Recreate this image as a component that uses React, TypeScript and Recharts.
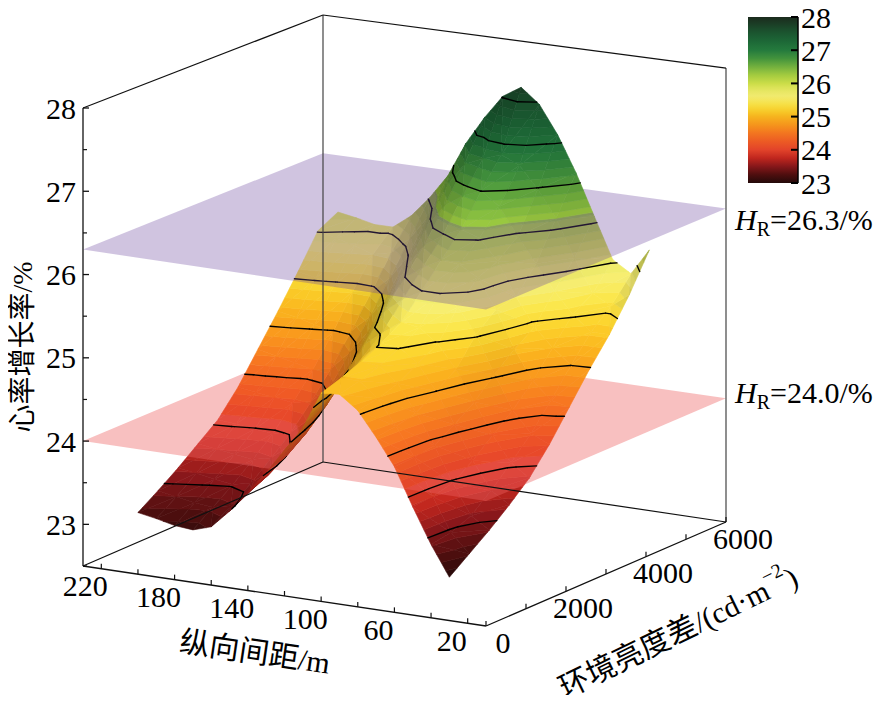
import React from 'react';
import * as RC from 'recharts';

const { ComposedChart, XAxis, YAxis, Customized } = RC as any;

const CHART_W = 883;
const CHART_H = 703;
const X_DOMAIN: [number, number] = [0, CHART_W];
const Y_DOMAIN: [number, number] = [0, CHART_H];

// ---------------- data ----------------
// longitudinal spacing (m) of the grid columns
const spacing = [30, 40, 50, 60, 70, 80, 90, 100, 110, 120, 130, 140, 150, 160, 170, 180, 190, 200];
// ambient luminance difference (cd/m2) of the grid rows
const luminance = [0, 500, 1000, 1500, 2000, 2500, 3000, 3500, 4000, 4500, 5000];
// heart-rate growth rate (%) per row of luminance
const rateL0 = [23.02, 23.38, 23.8, 24.25, 24.57, 24.86, 25.02, 25.0, 24.55, 24.25, 23.95, 23.68, 23.42, 23.2, 23.13, 23.15, 23.2, 23.24];
const rateL500 = [23.2, 23.42, 23.82, 24.26, 24.6, 24.9, 25.08, 25.08, 24.75, 24.4, 24.05, 23.78, 23.55, 23.35, 23.3, 23.32, 23.36, 23.4];
const rateL1000 = [23.38, 23.52, 23.88, 24.3, 24.66, 24.98, 25.16, 25.18, 24.92, 24.6, 24.22, 23.93, 23.7, 23.52, 23.47, 23.5, 23.54, 23.57];
const rateL1500 = [23.58, 23.72, 24.05, 24.45, 24.82, 25.12, 25.28, 25.3, 25.1, 24.85, 24.45, 24.13, 23.9, 23.72, 23.67, 23.7, 23.73, 23.76];
const rateL2000 = [23.8, 23.95, 24.25, 24.62, 24.98, 25.25, 25.42, 25.45, 25.3, 25.12, 24.72, 24.38, 24.12, 23.93, 23.88, 23.9, 23.93, 23.95];
const rateL2500 = [24.1, 24.2, 24.45, 24.85, 25.3, 25.6, 25.72, 25.72, 25.6, 25.42, 25.05, 24.68, 24.4, 24.2, 24.15, 24.18, 24.21, 24.24];
const rateL3000 = [24.45, 24.5, 24.7, 25.05, 25.5, 25.85, 25.98, 26.0, 25.88, 25.72, 25.38, 25.0, 24.72, 24.5, 24.45, 24.5, 24.55, 24.6];
const rateL3500 = [24.8, 24.82, 25.0, 25.22, 25.55, 25.95, 26.2, 26.27, 26.17, 26.02, 25.72, 25.35, 25.05, 24.85, 24.8, 24.86, 24.92, 24.96];
const rateL4000 = [25.12, 25.12, 25.3, 25.55, 25.85, 26.15, 26.48, 26.64, 26.55, 26.4, 26.1, 25.72, 25.42, 25.22, 25.2, 25.25, 25.3, 25.34];
const rateL4500 = [25.5, 25.33, 25.45, 25.85, 26.3, 26.62, 26.88, 26.98, 26.9, 26.8, 26.5, 26.1, 25.8, 25.6, 25.55, 25.62, 25.68, 25.74];
const rateL5000 = [25.94, 25.62, 25.76, 26.25, 26.75, 27.18, 27.52, 27.7, 27.56, 27.27, 26.93, 26.5, 26.2, 25.95, 25.78, 25.78, 25.83, 25.87];
const heartRate = [rateL0, rateL500, rateL1000, rateL1500, rateL2000, rateL2500, rateL3000, rateL3500, rateL4000, rateL4500, rateL5000];

// axis ticks
const zTicks = [23, 24, 25, 26, 27, 28];
const zMinorTicks = [22.5, 23.5, 24.5, 25.5, 26.5, 27.5];
const spacingTicks = [220, 200, 180, 160, 140, 120, 100, 80, 60, 40, 20];
const spacingLabels = [220, 180, 140, 100, 60, 20];
const luminanceTicks = [0, 1000, 2000, 3000, 4000, 5000, 6000];
const luminanceLabels = [0, 2000, 4000, 6000];
const colorbarTicks = [23, 24, 25, 26, 27, 28];
// reference planes
const planeLevels = [24.0, 26.3];
const planeTexts = ['24.0', '26.3'];

// ---------------- styles / layout ----------------
const SERIF = "'Liberation Serif', 'Times New Roman', 'Noto Sans CJK SC', serif";
const PLANE_STYLE: Record<string, { fill: string; opacity: number; labelDy: number }> = {
  '24': { fill: '#ee6262', opacity: 0.4, labelDy: 5 },
  '26.3': { fill: '#6c479e', opacity: 0.32, labelDy: 22 },
};
const CMAP: [number, string][] = [
  [23.0, '#230909'], [23.25, '#4e0e0e'], [23.5, '#86171a'], [23.75, '#c0261e'], [24.0, '#e2432a'],
  [24.25, '#ec5a24'], [24.5, '#f27520'], [24.75, '#f5951c'], [25.0, '#f6b31e'], [25.2, '#f7cf2b'],
  [25.4, '#f6e24a'], [25.6, '#f2ea70'], [25.8, '#e5e660'], [26.0, '#cbdd48'], [26.25, '#a3cb3f'],
  [26.5, '#73b03e'], [26.75, '#43933c'], [27.0, '#247a3d'], [27.3, '#1c6636'], [27.6, '#1b4f2d'], [28.0, '#1b2a1d'],
];

function hexToRgb(h: string) {
  return [parseInt(h.slice(1, 3), 16), parseInt(h.slice(3, 5), 16), parseInt(h.slice(5, 7), 16)];
}
function cmapRgb(z: number): number[] {
  if (z <= CMAP[0][0]) return hexToRgb(CMAP[0][1]);
  for (let i = 1; i < CMAP.length; i++) {
    if (z <= CMAP[i][0]) {
      const [z0, c0] = CMAP[i - 1];
      const [z1, c1] = CMAP[i];
      const t = (z - z0) / (z1 - z0);
      const a = hexToRgb(c0), b = hexToRgb(c1);
      return a.map((v, k) => v + (b[k] - v) * t);
    }
  }
  return hexToRgb(CMAP[CMAP.length - 1][1]);
}
function rgbStr(c: number[], f = 1) {
  const r = c.map((v) => Math.max(0, Math.min(255, Math.round(v * f))));
  return `rgb(${r[0]},${r[1]},${r[2]})`;
}
function cmap(z: number) {
  return rgbStr(cmapRgb(z));
}

// 3D -> 2D projection of the box (d: 230..10, L: 0..6000, z: 22.5..28)
function toUVW(d: number, L: number, z: number): [number, number, number] {
  return [(230 - d) / 220, L / 6000, (z - 22.5) / 5.5];
}
function project(d: number, L: number, z: number): [number, number] {
  const [u, v, w] = toUVW(d, L, z);
  const h = 458 * (1 - 0.024 * v + 0.015 * u * v);
  return [83 + 403 * u + 240 * v, 566 + 60 * u - 104 * v - h * w];
}

type V3 = [number, number, number];

function clip(poly: V3[], level: number, keepAbove: boolean): V3[] {
  const out: V3[] = [];
  for (let k = 0; k < poly.length; k++) {
    const A = poly[k];
    const B = poly[(k + 1) % poly.length];
    const ia = keepAbove ? A[2] >= level : A[2] <= level;
    const ib = keepAbove ? B[2] >= level : B[2] <= level;
    if (ia) out.push(A);
    if (ia !== ib) {
      const t = (level - A[2]) / (B[2] - A[2]);
      out.push([A[0] + t * (B[0] - A[0]), A[1] + t * (B[1] - A[1]), level]);
    }
  }
  return out;
}

// light for shading (in unit-box coordinates u, v, w)
const LIGHT = (() => {
  const l = [0.3, 0.0, 1.0];
  const n = Math.hypot(l[0], l[1], l[2]);
  return l.map((x) => x / n);
})();

// vertex normals from the grid (central differences in unit-box coordinates)
function vertexNormal(i: number, j: number): number[] {
  const i0 = Math.max(0, i - 1), i1 = Math.min(luminance.length - 1, i + 1);
  const j0 = Math.max(0, j - 1), j1 = Math.min(spacing.length - 1, j + 1);
  const dw_dv = ((heartRate[i1][j] - heartRate[i0][j]) / 5.5) / ((luminance[i1] - luminance[i0]) / 6000);
  const dw_du = ((heartRate[i][j1] - heartRate[i][j0]) / 5.5) / (-(spacing[j1] - spacing[j0]) / 220);
  const n = [-dw_du, -dw_dv, 1];
  const m = Math.hypot(n[0], n[1], n[2]);
  return n.map((x) => x / m);
}

const usePlotHook: any = (RC as any).usePlotArea || (RC as any).useOffset || null;

function Scene() {
  const pa: any = usePlotHook ? usePlotHook() : null;
  const px = pa ? (pa.x ?? pa.left ?? 0) : 0;
  const py = pa ? (pa.y ?? pa.top ?? 0) : 0;
  const pw = pa && pa.width ? pa.width : CHART_W;
  const ph = pa && pa.height ? pa.height : CHART_H;
  const sx = (x: number) => px + ((x - X_DOMAIN[0]) / (X_DOMAIN[1] - X_DOMAIN[0])) * pw;
  const sy = (y: number) => py + ((y - Y_DOMAIN[0]) / (Y_DOMAIN[1] - Y_DOMAIN[0])) * ph;
  const P = (d: number, L: number, z: number): [number, number] => {
    const [x, y] = project(d, L, z);
    return [sx(x), sy(y)];
  };
  const pts = (poly: V3[]) => poly.map((p) => P(p[0], p[1], p[2]).map((v) => v.toFixed(2)).join(',')).join(' ');

  // triangles with vertex normals
  type Tri = { v: V3[]; n: number[][] };
  const tris: Tri[] = [];
  for (let i = 0; i < luminance.length - 1; i++) {
    for (let j = 0; j < spacing.length - 1; j++) {
      const a: V3 = [spacing[j], luminance[i], heartRate[i][j]];
      const b: V3 = [spacing[j + 1], luminance[i], heartRate[i][j + 1]];
      const c: V3 = [spacing[j + 1], luminance[i + 1], heartRate[i + 1][j + 1]];
      const e: V3 = [spacing[j], luminance[i + 1], heartRate[i + 1][j]];
      const na = vertexNormal(i, j), nb = vertexNormal(i, j + 1), nc = vertexNormal(i + 1, j + 1), ne = vertexNormal(i + 1, j);
      if (Math.abs(a[2] - c[2]) <= Math.abs(b[2] - e[2])) {
        tris.push({ v: [a, b, c], n: [na, nb, nc] }, { v: [a, c, e], n: [na, nc, ne] });
      } else {
        tris.push({ v: [a, b, e], n: [na, nb, ne] }, { v: [b, c, e], n: [nb, nc, ne] });
      }
    }
  }

  const shadeAt = (tri: Tri, d: number, L: number) => {
    const [A, B, C] = tri.v;
    const det = (B[1] - C[1]) * (A[0] - C[0]) + (C[0] - B[0]) * (A[1] - C[1]);
    const wa = ((B[1] - C[1]) * (d - C[0]) + (C[0] - B[0]) * (L - C[1])) / det;
    const wb = ((C[1] - A[1]) * (d - C[0]) + (A[0] - C[0]) * (L - C[1])) / det;
    const wc = 1 - wa - wb;
    const n = [0, 1, 2].map((k) => wa * tri.n[0][k] + wb * tri.n[1][k] + wc * tri.n[2][k]);
    const m = Math.hypot(n[0], n[1], n[2]);
    const nd = (n[0] * LIGHT[0] + n[1] * LIGHT[1] + n[2] * LIGHT[2]) / m;
    return Math.min(1.02, 0.55 + 0.6 * Math.max(0, nd));
  };

  const step = 5 / 55;
  const fine: number[] = [];
  for (let k = 0; k <= 55; k++) fine.push(23 + k * step);
  const bounds = Array.from(new Set([22.5, ...fine, ...planeLevels, 28.5])).sort((a, b) => a - b);
  const contourLevels: number[] = [];
  for (let k = 1; k <= 10; k++) contourLevels.push(23 + (k * 5) / 11);

  type Item = { key: number; el: (idx: number) => React.ReactNode };
  const items: Item[] = [];

  tris.forEach((tri) => {
    const zs = tri.v.map((p) => p[2]);
    const zmin = Math.min(...zs), zmax = Math.max(...zs);
    for (let b = 0; b < bounds.length - 1; b++) {
      const lo = bounds[b], hi = bounds[b + 1];
      if (hi <= zmin || lo >= zmax) continue;
      const poly = clip(clip(tri.v, lo, true), hi, false);
      if (poly.length < 3) continue;
      const mid = (lo + hi) / 2;
      const kf = Math.floor((mid - 23) / step);
      const cd = poly.reduce((s, p) => s + p[0], 0) / poly.length;
      const cl = poly.reduce((s, p) => s + p[1], 0) / poly.length;
      const f = shadeAt(tri, cd, cl);
      const col = rgbStr(cmapRgb(23 + (kf + 0.5) * step), f);
      const meanZ = poly.reduce((s, p) => s + p[2], 0) / poly.length;
      const P2 = pts(poly);
      items.push({
        key: meanZ,
        el: (idx) => <polygon key={idx} points={P2} fill={col} stroke={col} strokeWidth={0.6} strokeLinejoin="round" />,
      });
    }
    contourLevels.forEach((c) => {
      if (c <= zmin || c >= zmax) return;
      const seg: V3[] = [];
      for (let k = 0; k < 3; k++) {
        const A = tri.v[k], B = tri.v[(k + 1) % 3];
        if ((A[2] - c) * (B[2] - c) < 0) {
          const t = (c - A[2]) / (B[2] - A[2]);
          seg.push([A[0] + t * (B[0] - A[0]), A[1] + t * (B[1] - A[1]), c]);
        }
      }
      if (seg.length === 2) {
        const [x1, y1] = P(seg[0][0], seg[0][1], c);
        const [x2, y2] = P(seg[1][0], seg[1][1], c);
        items.push({
          key: c + step + 0.001,
          el: (idx) => <line key={idx} x1={x1} y1={y1} x2={x2} y2={y2} stroke="#000" strokeWidth={1.4} strokeLinecap="round" />,
        });
      }
    });
  });

  planeLevels.forEach((lvl) => {
    const poly: V3[] = [[230, 0, lvl], [10, 0, lvl], [10, 6000, lvl], [230, 6000, lvl]];
    const P2 = pts(poly);
    const st = PLANE_STYLE[String(lvl)] || PLANE_STYLE['24'];
    items.push({ key: lvl, el: (idx) => <polygon key={idx} points={P2} fill={st.fill} fillOpacity={st.opacity} stroke="none" /> });
  });

  items.sort((a, b) => a.key - b.key);

  const line = (a: [number, number], b: [number, number], k: string, stroke = '#111', w = 1.2) => (
    <line key={k} x1={a[0]} y1={a[1]} x2={b[0]} y2={b[1]} stroke={stroke} strokeWidth={w} />
  );

  // colorbar geometry
  const cbX = sx(748), cbW = sx(798) - sx(748);
  const cbTop = sy(17), cbBot = sy(183);
  const cbY = (z: number) => cbBot - ((z - 23) / 5) * (cbBot - cbTop);
  const gradStops: React.ReactNode[] = [];
  for (let k = 0; k <= 40; k++) {
    const z = 28 - (k * 5) / 40;
    gradStops.push(<stop key={k} offset={`${(k / 40) * 100}%`} stopColor={cmap(z)} />);
  }

  return (
    <g>
      <rect x={0} y={0} width={CHART_W} height={CHART_H} fill="#fff" />
      {items.map((it, idx) => it.el(idx))}

      {/* box */}
      {line(P(230, 0, 22.5), P(230, 0, 28), 'zaxis', '#111', 1.3)}
      {line(P(230, 6000, 22.5), P(230, 6000, 28), 'bl', '#444', 1.2)}
      {line(P(10, 6000, 22.5), P(10, 6000, 28), 'br', '#444', 1.2)}
      {line(P(230, 0, 28), P(230, 6000, 28), 't1')}
      {line(P(230, 6000, 28), P(10, 6000, 28), 't2')}
      {line(P(230, 0, 22.5), P(10, 0, 22.5), 'f1', '#111', 1.3)}
      {line(P(10, 0, 22.5), P(10, 6000, 22.5), 'f2', '#111', 1.3)}
      {line(P(230, 0, 22.5), P(230, 6000, 22.5), 'f3')}
      {line(P(230, 6000, 22.5), P(10, 6000, 22.5), 'f4')}

      {/* z ticks */}
      {zTicks.map((z) => {
        const [x, y] = P(230, 0, z);
        return (
          <g key={`zt${z}`}>
            <line x1={x} y1={y} x2={x + 6} y2={y} stroke="#111" strokeWidth={1.3} />
            <text x={x - 7} y={y} textAnchor="end" dominantBaseline="central" fontFamily={SERIF} fontSize={30} fill="#000">
              {z}
            </text>
          </g>
        );
      })}
      {zMinorTicks.map((z) => {
        const [x, y] = P(230, 0, z);
        return <line key={`zm${z}`} x1={x} y1={y} x2={x + 4} y2={y} stroke="#111" strokeWidth={1.2} />;
      })}

      {/* spacing ticks */}
      {spacingTicks.map((d) => {
        const [x, y] = P(d, 0, 22.5);
        return <line key={`dt${d}`} x1={x} y1={y} x2={x} y2={y - 5} stroke="#111" strokeWidth={1.2} />;
      })}
      {spacingLabels.map((d) => {
        const [x, y] = P(d, 0, 22.5);
        return (
          <text key={`dl${d}`} x={x - 16} y={y + 17} textAnchor="middle" dominantBaseline="central" fontFamily={SERIF} fontSize={30} fill="#000">
            {d}
          </text>
        );
      })}

      {/* luminance ticks */}
      {luminanceTicks.map((L) => {
        const [x, y] = P(10, L, 22.5);
        return <line key={`lt${L}`} x1={x} y1={y} x2={x} y2={y - 5} stroke="#111" strokeWidth={1.2} />;
      })}
      {luminanceLabels.map((L) => {
        const [x, y] = P(10, L, 22.5);
        return (
          <text key={`ll${L}`} x={x + 17} y={y + 16} textAnchor="middle" dominantBaseline="central" fontFamily={SERIF} fontSize={30} fill="#000">
            {L}
          </text>
        );
      })}

      {/* axis titles */}
      <text x={sx(22)} y={sy(347)} transform={`rotate(-90 ${sx(22)} ${sy(347)})`} textAnchor="middle" dominantBaseline="central" fontFamily={SERIF} fontSize={28} fill="#000">
        心率增长率/%
      </text>
      <text x={sx(255)} y={sy(652)} transform={`rotate(8.5 ${sx(255)} ${sy(652)})`} textAnchor="middle" dominantBaseline="central" fontFamily={SERIF} fontSize={30} fill="#000">
        纵向间距/m
      </text>
      <text x={sx(678)} y={sy(632)} transform={`rotate(-26 ${sx(678)} ${sy(632)})`} textAnchor="middle" dominantBaseline="central" fontFamily={SERIF} fontSize={30} fill="#000">
        环境亮度差/(cd·m<tspan dy={-12} fontSize={20}>−2</tspan><tspan dy={12}>)</tspan>
      </text>

      {/* plane labels */}
      {planeLevels.map((lvl, i) => {
        const [, yR] = P(10, 6000, lvl);
        const st = PLANE_STYLE[String(lvl)] || PLANE_STYLE['24'];
        return (
          <text key={`pl${i}`} x={sx(735)} y={yR + st.labelDy} fontFamily={SERIF} fontSize={30} fill="#000">
            <tspan fontStyle="italic">H</tspan>
            <tspan fontSize={20} dy={6}>R</tspan>
            <tspan dy={-6}>={planeTexts[i]}/%</tspan>
          </text>
        );
      })}

      {/* colorbar */}
      <defs>
        <linearGradient id="cbGrad" x1="0" y1="0" x2="0" y2="1">
          {gradStops}
        </linearGradient>
      </defs>
      <rect x={cbX} y={cbTop} width={cbW} height={cbBot - cbTop} fill="url(#cbGrad)" />
      <line x1={cbX + cbW} y1={cbTop} x2={cbX + cbW} y2={cbBot} stroke="#000" strokeWidth={1.5} />
      {colorbarTicks.map((z) => {
        const y = cbY(z);
        return (
          <g key={`cb${z}`}>
            <line x1={cbX + cbW - 7} y1={y} x2={cbX + cbW} y2={y} stroke="#000" strokeWidth={2} />
            <text x={cbX + cbW + 3} y={y} dominantBaseline="central" fontFamily={SERIF} fontSize={30} fill="#000">
              {z}
            </text>
          </g>
        );
      })}
    </g>
  );
}

const frameData = [
  { x: X_DOMAIN[0], y: Y_DOMAIN[0] },
  { x: X_DOMAIN[1], y: Y_DOMAIN[1] },
];

export default function App() {
  return (
    <div style={{ margin: -8, width: CHART_W, height: CHART_H, background: '#fff' }}>
      <ComposedChart width={CHART_W} height={CHART_H} margin={{ top: 0, right: 0, bottom: 0, left: 0 }} data={frameData}>
        <XAxis type="number" dataKey="x" domain={X_DOMAIN} hide allowDataOverflow />
        <YAxis type="number" dataKey="y" domain={Y_DOMAIN} reversed hide allowDataOverflow />
        <Customized component={<Scene />} />
      </ComposedChart>
    </div>
  );
}
